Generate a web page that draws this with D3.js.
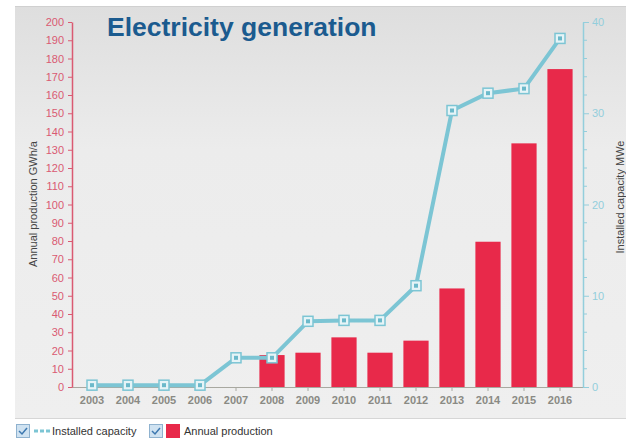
<!DOCTYPE html>
<html>
<head>
<meta charset="utf-8">
<script src="https://cdn.jsdelivr.net/npm/d3@7"></script>
<style>
  body { margin: 0; background: #fff; }
  svg { display: block; font-family: "Liberation Sans", Arial, sans-serif; }
</style>
</head>
<body>
<svg id="chart" width="626" height="442"></svg>
<script>
// Electricity generation: bars = annual production, line = installed capacity

var years = ["2003","2004","2005","2006","2007","2008","2009","2010","2011","2012","2013","2014","2015","2016"];
var production = [null, null, null, null, null, 17.5, 18.8, 27.2, 18.8, 25.4, 54, 79.6, 133.5, 174.2]; // GWh/a
var capacity = [0.2, 0.2, 0.2, 0.2, 3.2, 3.2, 7.2, 7.3, 7.3, 11.1, 30.3, 32.2, 32.7, 38.2]; // MWe
var leftTicks = d3.range(0, 201, 10);
var rightTicks = [0, 10, 20, 30, 40];

var barColor = "#e8294a";
var lineColor = "#7cc5d4";
var leftColor = "#da5a72";
var rightColor = "#93cedc";

var svg = d3.select("#chart");

// background panel with soft gradient
var defs = svg.append("defs");
var grad = defs.append("linearGradient")
  .attr("id", "bg")
  .attr("x1", 0).attr("y1", 0).attr("x2", 0).attr("y2", 1);
grad.append("stop").attr("offset", "0%").attr("stop-color", "#dedede");
grad.append("stop").attr("offset", "35%").attr("stop-color", "#ececec");
grad.append("stop").attr("offset", "100%").attr("stop-color", "#efefef");

svg.append("rect")
  .attr("x", 15).attr("y", 6)
  .attr("width", 611).attr("height", 412)
  .attr("fill", "url(#bg)");
svg.append("line")
  .attr("x1", 15).attr("x2", 626).attr("y1", 6.5).attr("y2", 6.5)
  .attr("stroke", "#d0d0d0");
svg.append("line")
  .attr("x1", 15).attr("x2", 626).attr("y1", 418.5).attr("y2", 418.5)
  .attr("stroke", "#d6d6d6");

// scales
var x = d3.scaleBand()
  .domain(years)
  .range([74, 578])
  .paddingInner(0.3)
  .paddingOuter(0.15);
var xc = function(d) { return x(d) + x.bandwidth() / 2; };

var yL = d3.scaleLinear().domain([0, 200]).range([387, 22]);
var yR = d3.scaleLinear().domain([0, 40]).range([387, 22]);

// bars
svg.append("g").selectAll("rect")
  .data(years.map(function(y, i) { return { year: y, v: production[i] }; })
    .filter(function(d) { return d.v != null; }))
  .enter().append("rect")
  .attr("x", function(d) { return x(d.year); })
  .attr("y", function(d) { return yL(d.v); })
  .attr("width", x.bandwidth())
  .attr("height", function(d) { return yL(0) - yL(d.v); })
  .attr("fill", barColor);

// x axis
var xAxis = svg.append("g")
  .attr("transform", "translate(0,387)")
  .call(d3.axisBottom(x).tickSize(4).tickSizeOuter(0).tickPadding(5));
xAxis.select(".domain").remove();
xAxis.append("line")
  .attr("x1", 72).attr("x2", 583).attr("y1", 0.5).attr("y2", 0.5)
  .attr("stroke", "#a8a8a0");
xAxis.selectAll(".tick line").attr("stroke", "#a8a8a0");
xAxis.selectAll(".tick text")
  .attr("fill", "#8a8a84")
  .style("font-size", "11px")
  .style("font-weight", "bold");

// left axis
var leftAxis = svg.append("g")
  .attr("transform", "translate(72,0)")
  .call(d3.axisLeft(yL).tickValues(leftTicks).tickSize(4).tickSizeOuter(0).tickPadding(4));
leftAxis.select(".domain").attr("stroke", leftColor).attr("stroke-width", 1.5);
leftAxis.selectAll(".tick line").attr("stroke", leftColor);
leftAxis.selectAll(".tick text")
  .attr("fill", leftColor)
  .style("font-size", "11px");

// right axis
var rightAxis = svg.append("g")
  .attr("transform", "translate(583,0)")
  .call(d3.axisRight(yR).tickValues(rightTicks).tickSize(6).tickSizeOuter(0).tickPadding(3));
rightAxis.select(".domain").attr("stroke", rightColor).attr("stroke-width", 1.5);
rightAxis.selectAll(".tick line").attr("stroke", rightColor);
rightAxis.selectAll(".tick text")
  .attr("fill", rightColor)
  .style("font-size", "11px");
// minor ticks every 2 MWe
rightAxis.append("g").selectAll("line")
  .data(d3.range(0, 41, 2).filter(function(v) { return v % 10 !== 0; }))
  .enter().append("line")
  .attr("x1", 0).attr("x2", 4)
  .attr("y1", function(v) { return yR(v); })
  .attr("y2", function(v) { return yR(v); })
  .attr("stroke", rightColor);

// capacity line
var line = d3.line()
  .x(function(d, i) { return xc(years[i]); })
  .y(function(d) { return yR(d); })
  .curve(d3.curveCatmullRom.alpha(0.5));
svg.append("path")
  .datum(capacity)
  .attr("d", d3.line()
    .x(function(d, i) { return xc(years[i]); })
    .y(function(d) { return yR(d); }))
  .attr("fill", "none")
  .attr("stroke", lineColor)
  .attr("stroke-width", 4)
  .attr("stroke-linejoin", "round");

// square markers
var marks = svg.append("g").selectAll("g")
  .data(capacity)
  .enter().append("g")
  .attr("transform", function(d, i) { return "translate(" + xc(years[i]) + "," + yR(d) + ")"; });
marks.append("rect")
  .attr("x", -5).attr("y", -5).attr("width", 10).attr("height", 10)
  .attr("fill", "#e6f4f7")
  .attr("stroke", lineColor)
  .attr("stroke-width", 1.5);
marks.append("rect")
  .attr("x", -2).attr("y", -2).attr("width", 4).attr("height", 4)
  .attr("fill", "#6bb9ca");

// title
svg.append("text")
  .attr("x", 107).attr("y", 36)
  .attr("fill", "#1b5b8f")
  .style("font-size", "26.5px")
  .style("font-weight", "bold")
  .text("Electricity generation");

// axis titles
svg.append("text")
  .attr("transform", "translate(37,204) rotate(-90)")
  .attr("text-anchor", "middle")
  .attr("fill", "#444")
  .style("font-size", "11px")
  .text("Annual production GWh/a");
svg.append("text")
  .attr("transform", "translate(624,197) rotate(-90)")
  .attr("text-anchor", "middle")
  .attr("fill", "#444")
  .style("font-size", "11px")
  .text("Installed capacity MWe");

// legend
function checkbox(g, x0) {
  g.append("rect")
    .attr("x", x0 + 0.5).attr("y", 424.5).attr("width", 13).attr("height", 13)
    .attr("fill", "#cfe2f1").attr("stroke", "#8fb2cf");
  g.append("path")
    .attr("d", "M" + (x0 + 3) + ",431 l3,3 l5,-6")
    .attr("fill", "none").attr("stroke", "#3d78b0").attr("stroke-width", 1.5);
}
var legend = svg.append("g");
checkbox(legend, 16);
legend.append("line")
  .attr("x1", 34).attr("x2", 52).attr("y1", 431).attr("y2", 431)
  .attr("stroke", lineColor).attr("stroke-width", 3)
  .attr("stroke-dasharray", "4,2");
legend.append("text")
  .attr("x", 52).attr("y", 435)
  .attr("fill", "#333")
  .style("font-size", "11px")
  .text("Installed capacity");
checkbox(legend, 149);
legend.append("rect")
  .attr("x", 166).attr("y", 424).attr("width", 14).attr("height", 14)
  .attr("fill", barColor);
legend.append("text")
  .attr("x", 184).attr("y", 435)
  .attr("fill", "#333")
  .style("font-size", "11px")
  .text("Annual production");
</script>
</body>
</html>
